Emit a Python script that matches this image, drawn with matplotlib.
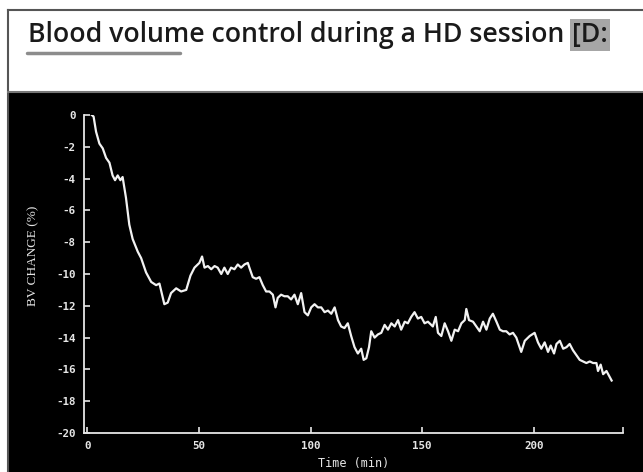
import matplotlib
matplotlib.use("Agg")
import matplotlib.pyplot as plt
from matplotlib.patches import Rectangle
from matplotlib.lines import Line2D

title_main = "Blood volume control during a HD session"
title_tag = "[D:"
xlabel = "Time (min)"
ylabel = "BV CHANGE (%)"
xticks = [0, 50, 100, 150, 200, 240]
xticklabels = ["0", "50", "100", "150", "200", ""]
yticks = [0, -2, -4, -6, -8, -10, -12, -14, -16, -18, -20]

time_min = [2.0, 2.8, 3.9, 5.4, 6.9, 8.4, 9.9, 11.3, 12.4, 13.6, 14.8, 15.8, 17.3, 18.8,
            20.3, 22.6, 24.1, 26.3, 28.6, 30.8, 32.3, 33.8, 34.5, 36.0, 37.5, 39.8, 42.0,
            44.3, 46.2, 48.0, 50.2, 51.4, 52.5, 54.0, 55.5, 57.0, 58.4, 60.0, 61.4, 62.9,
            64.4, 65.9, 67.4, 68.9, 70.4, 71.9, 72.6, 74.1, 75.6, 77.1, 78.6, 80.1, 81.6,
            83.1, 84.3, 85.3, 86.8, 88.3, 89.8, 91.3, 92.8, 94.3, 95.8, 97.3, 98.8, 100.3,
            101.8, 103.3, 104.8, 106.3, 107.8, 109.3, 110.8, 112.3, 113.7, 115.2, 116.7,
            118.2, 119.7, 121.2, 122.7, 123.8, 125.0, 126.2, 127.2, 128.7, 130.2, 131.7,
            133.2, 134.7, 136.2, 137.7, 139.2, 140.6, 142.2, 143.6, 145.1, 146.6, 148.1,
            149.6, 151.1, 152.6, 154.8, 156.1, 157.1, 158.6, 160.1, 161.6, 163.1, 164.6,
            166.1, 167.6, 169.1, 169.8, 171.0, 172.8, 174.3, 175.8, 177.3, 178.8, 180.3,
            181.7, 183.3, 184.8, 186.2, 187.7, 189.2, 190.7, 192.2, 193.7, 194.4, 196.0,
            198.2, 200.4, 201.9, 203.4, 204.9, 206.4, 207.6, 209.1, 210.2, 211.7, 213.2,
            214.7, 216.1, 217.6, 219.1, 220.6, 222.1, 223.6, 225.1, 226.6, 228.1, 228.8,
            230.0, 231.1, 232.6, 234.1, 234.9]
bv_change = [0.0, -0.1, -1.05, -1.8, -2.1, -2.7, -3.0, -3.8, -4.1, -3.8, -4.1, -3.9, -5.2, -6.9,
             -7.8, -8.6, -9.0, -9.9, -10.5, -10.7, -10.6, -11.5, -11.9, -11.8, -11.2, -10.9, -11.1,
             -11.0, -10.1, -9.6, -9.3, -8.9, -9.6, -9.5, -9.7, -9.5, -9.6, -10.0, -9.6, -10.0,
             -9.6, -9.7, -9.4, -9.6, -9.4, -9.3, -9.6, -10.2, -10.3, -10.2, -10.7, -11.1, -11.1,
             -11.3, -12.1, -11.5, -11.3, -11.4, -11.4, -11.6, -11.3, -11.9, -11.2, -12.4, -12.6, -12.1,
             -11.9, -12.1, -12.1, -12.4, -12.3, -12.5, -12.1, -12.9, -13.3, -13.4, -13.1,
             -13.9, -14.6, -15.0, -14.7, -15.4, -15.3, -14.6, -13.6, -14.0, -13.8, -13.7,
             -13.2, -13.5, -13.1, -13.3, -12.9, -13.5, -13.0, -13.1, -12.7, -12.4, -12.8,
             -12.7, -13.1, -13.0, -13.3, -12.7, -13.7, -13.9, -13.1, -13.6, -14.2, -13.5,
             -13.6, -13.1, -12.9, -12.2, -12.9, -13.0, -13.3, -13.6, -13.0, -13.5, -12.8,
             -12.5, -13.0, -13.5, -13.6, -13.6, -13.8, -13.7, -14.0, -14.6, -14.9, -14.2,
             -13.9, -13.7, -14.3, -14.7, -14.3, -14.9, -14.5, -15.0, -14.4, -14.2, -14.7,
             -14.6, -14.4, -14.8, -15.1, -15.4, -15.5, -15.6, -15.5, -15.6, -15.6, -16.1,
             -15.7, -16.3, -16.1, -16.5, -16.7]

W, H = 643, 472
fig = plt.figure(figsize=(W / 100, H / 100), dpi=100)
fig.patch.set_facecolor("white")

# slide frame and black panel
fig.patches.append(Rectangle((8 / W, 0), 1 - 8 / W, 1 - 92 / H, transform=fig.transFigure,
                             facecolor="black", edgecolor="none", zorder=-5))
fig.lines.append(Line2D([8 / W, 8 / W], [0, 1 - 10 / H], transform=fig.transFigure,
                        color="#555555", lw=1.5, zorder=-4))
fig.lines.append(Line2D([8 / W, 1], [1 - 10 / H, 1 - 10 / H], transform=fig.transFigure,
                        color="#555555", lw=1.5, zorder=-4))
fig.lines.append(Line2D([8 / W, 1], [1 - 92 / H, 1 - 92 / H], transform=fig.transFigure,
                        color="#777777", lw=1.5, zorder=-4))
# gray underline below title
fig.lines.append(Line2D([27 / W, 180 / W], [1 - 53 / H, 1 - 53 / H], transform=fig.transFigure,
                        color="#8c8c8c", lw=2.5, solid_capstyle="round", zorder=-4))

t = fig.text(28 / W, 1 - 42 / H, title_main, fontsize=19.2, fontweight="semibold",
             family="Open Sans", color="#1a1a1a", va="baseline", ha="left")
fig.canvas.draw()
bb = t.get_window_extent()
fig.text(bb.x1 / W + 8 / W, 1 - 42 / H, title_tag, fontsize=19.2, fontweight="semibold",
         family="Open Sans", color="#1a1a1a", va="baseline", ha="left",
         bbox=dict(facecolor="#a6a6a6", edgecolor="none", pad=1.5))

ax = fig.add_axes([84 / W, 1 - 433 / H, (623 - 84) / W, (433 - 115) / H])
ax.patch.set_alpha(0)
fg = "#e6e6e6"
ax.plot(time_min, bv_change, color="#f2f2f2", lw=1.6)
ax.set_xlim(-1.5, 240)
ax.set_ylim(-20, 0)
for s in ["top", "right"]:
    ax.spines[s].set_visible(False)
for s in ["left", "bottom"]:
    ax.spines[s].set_color(fg)
    ax.spines[s].set_linewidth(1.3)
ax.set_xticks(xticks)
ax.set_xticklabels(xticklabels)
ax.set_yticks(yticks)
ax.set_yticklabels([str(v) for v in yticks])
ax.tick_params(direction="in", length=4, width=1.2, colors=fg, labelsize=7.8, pad=6)
for lab in ax.get_xticklabels() + ax.get_yticklabels():
    lab.set_family("DejaVu Sans Mono")
    lab.set_fontweight("bold")
ax.set_xlabel(xlabel, color=fg, fontsize=8.5, family="DejaVu Sans Mono", labelpad=4)
ax.set_ylabel(ylabel, color=fg, fontsize=9.5, family="Liberation Serif")
ax.yaxis.set_label_coords(-0.083, 0.557)

fig.savefig("out.png", dpi=100, facecolor="white")
